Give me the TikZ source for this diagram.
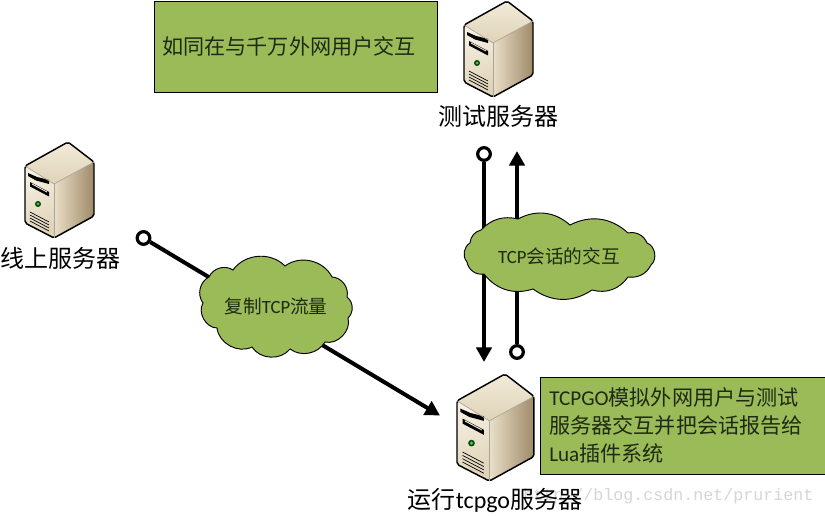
\documentclass[tikz,border=0pt]{standalone}
\usepackage{fontspec}
\setmainfont{Carlito}
\newfontfamily\cjkf{Noto Sans CJK SC}
\newfontfamily\wmf{Liberation Mono}
\usetikzlibrary{arrows.meta}
\definecolor{boxgreen}{HTML}{9BBB59}
\definecolor{txt}{HTML}{1E2A12}
\newcommand{\zh}[1]{{\cjkf #1}}
\newcommand{\serverpic}[3]{%
\begin{scope}[shift={(#1,#2)},scale=#3,line join=round]
  \coordinate (T) at (43,0); \coordinate (L) at (0,24); \coordinate (R) at (69,20);
  \coordinate (I) at (29,42); \coordinate (B) at (29,96); \coordinate (RB) at (69,74);
  \coordinate (LB) at (0,81);
  \shade[left color=srvfront, right color=srvfrontb, shading angle=20] (L)--(I)--(B)--(LB)--cycle;
  \shade[left color=srvlight, right color=srvdark] (I)--(R)--(RB)--(B)--cycle;
  \shade[top color=srvtop, bottom color=srvtopb] (T)--(R)--(I)--(L)--cycle;
  \fill[black] (3,31)--(12,35)--(24,38)--(24,42)--(11,38.5)--(3,34)--cycle;
  \fill[black] (5,40)--(24,50)--(24,54.5)--(5,44.5)--cycle;
  \fill[srvtop] (7,41.5)--(22,49.5)--(22,50.5)--(7,42.5)--cycle;
  \fill[black!70!green] (13,62) circle (3);
  \fill[green!50!black!60] (13,62) circle (1.5);
  \foreach \d in {0,3,6,9} \draw[black,line width=.5pt] (5,70+\d)--(24,80+\d);
  \draw[black,line width=1.1pt,rounded corners=1.5] (T)--(R)--(RB)--(B)--(LB)--(L)--cycle;
  \draw[srvtop!70!black,line width=.5pt] (L)--(I)--(R);
  \draw[srvtop!70!black,line width=.5pt] (I)--(B);
\end{scope}}
\definecolor{srvfront}{HTML}{F6F0E2}
\definecolor{srvfrontb}{HTML}{DFD3B8}
\definecolor{srvtop}{HTML}{F2EBDA}
\definecolor{srvtopb}{HTML}{DFD3B8}
\definecolor{srvlight}{HTML}{EADFC8}
\definecolor{srvdark}{HTML}{9E8A68}
\tikzset{
  greenbox/.style={draw=black,line width=.7pt,fill=boxgreen,inner sep=0pt,anchor=north west},
  ring/.style={circle,draw=black,line width=2.4pt,fill=white,minimum size=9.5pt,inner sep=0pt},
  flow/.style={draw=black,line width=3pt,-{Triangle[length=11pt,width=11.5pt]}},
  cloudline/.style={draw=black,line width=.7pt,fill=boxgreen},
  lab/.style={text=black,font=\fontsize{18pt}{20pt}\selectfont,inner sep=0pt},
  boxtxt/.style={text=txt,font=\fontsize{15.85pt}{21pt}\selectfont,inner sep=0pt},
  cloudtxt/.style={text=txt,font=\fontsize{14pt}{16pt}\selectfont,inner sep=0pt},
  wm/.style={text=black!16,font=\wmf\fontsize{12.5pt}{14pt}\selectfont,inner sep=0pt,anchor=west}
}
\begin{document}
\begin{tikzpicture}[x=.75pt,y=-.75pt]
\useasboundingbox (0,0) rectangle (825,516);
\fill[white] (0,0) rectangle (825,516);
% watermark
\node[wm] (mark) at (523,496) {http://blog.csdn.net/prurient};
% boxes
\path[greenbox] (154,1) rectangle (437,92);
\path[greenbox] (540.5,377.5) rectangle (825,474);
\node[boxtxt,anchor=west] (boxa) at (162,46) {\zh{如同在与千万外网用户交互}};
\node[boxtxt,anchor=west,align=left] (boxb) at (549,425.5) {TCPGO\zh{模拟外网用户与测试}\\\zh{服务器交互并把会话报告给}\\Lua\zh{插件系统}};
% servers
\serverpic{464}{1}{1}
\serverpic{25}{142}{1}
\serverpic{457}{374}{1.115}
\node[lab] (srvtest) at (498,116) {\zh{测试服务器}};
\node[lab] (srvlive) at (60,258) {\zh{线上服务器}};
\node[lab] (srvrun) at (495,500) {\zh{运行}tcpgo\zh{服务器}};
% connectors
\node[ring] (r1) at (143.5,238) {};
\node[ring] (r2) at (484,154) {};
\node[ring] (r3) at (517,352) {};
\coordinate (t1) at (440,415.5);
\coordinate (t2) at (484,362);
\coordinate (t3) at (517,151);
\draw[flow] (r1) -- (t1);
\draw[flow] (r2) -- (t2);
\draw[flow] (r3) -- (t3);
% clouds
\path[cloudline] (209,277) to[bend left=50] (233,270) to[bend left=50] (285,266)
  to[bend left=50] (332,277) to[bend left=50] (347,297) to[bend left=50] (348,318)
  to[bend left=60] (325,342) to[bend left=48] (290,349) to[bend left=55] (252,347)
  to[bend left=55] (217,328) to[bend left=60] (203,303) to[bend left=50] (209,277) -- cycle;
\path[cloudline] (481,230) to[bend left=30] (518,219) to[bend left=35] (570,225)
  to[bend left=35] (628,233) to[bend left=40] (647,243) to[bend left=60] (651,265)
  to[bend left=35] (628,277) to[bend left=35] (592,290) to[bend left=35] (533,289)
  to[bend left=35] (484,274) to[bend left=45] (467,262) to[bend left=50] (470,243)
  to[bend left=35] (481,230) -- cycle;
\node[cloudtxt] (c1) at (276,306) {\zh{复制}TCP\zh{流量}};
\node[cloudtxt] (c2) at (559,256) {TCP\zh{会话的交互}};
\end{tikzpicture}
\end{document}
